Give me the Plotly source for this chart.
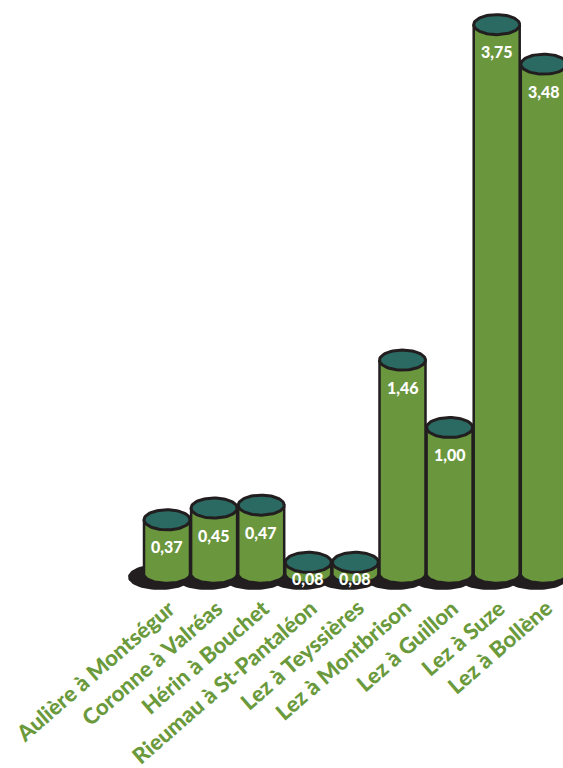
import numpy as np
import plotly.graph_objects as go

# ---------------- data ----------------
stations = ["Aulière à Montségur", "Coronne à Valréas", "Hérin à Bouchet",
            "Rieumau à St-Pantaléon", "Lez à Teyssières", "Lez à Montbrison",
            "Lez à Guillon", "Lez à Suze", "Lez à Bollène"]
values = [0.37, 0.45, 0.47, 0.08, 0.08, 1.46, 1.00, 3.75, 3.48]
value_labels = ["0,37", "0,45", "0,47", "0,08", "0,08", "1,46", "1,00", "3,75", "3,48"]

# ---------------- style / layout constants ----------------
W, H = 563, 768
X0_PX, X_STEP = 167.0, 47.1      # pixel of first category, px per category
Y0_PX, Y_SCALE = 574.0, 146.5    # pixel of zero, px per unit
xr = [-X0_PX / X_STEP, (W - X0_PX) / X_STEP]
yr = [-(H - Y0_PX) / Y_SCALE, Y0_PX / Y_SCALE]
PXX = 1.0 / X_STEP
PXY = 1.0 / Y_SCALE

GREEN = "#6a963e"
TEAL = "#2a6a62"
DARK = "#221e1f"
LABEL_GREEN = "#6a9a3c"

RX = 23.0 * PXX
RY_BOT = 9.0 * PXY
RY_TOP = 10.0 * PXY

t = np.linspace(0, 2 * np.pi, 73)
half = np.linspace(0, np.pi, 37)

fig = go.Figure()

# shadows
for i, v in enumerate(values):
    cx = i - 7 * PXX
    cy = -3 * PXY
    fig.add_trace(go.Scatter(
        x=cx + 32 * PXX * np.cos(t), y=cy + 13 * PXY * np.sin(t),
        mode="lines", fill="toself", fillcolor=DARK,
        line=dict(color=DARK, width=0), hoverinfo="skip"))

# cylinders
for i, v in enumerate(values):
    bx = np.concatenate([[i - RX, i + RX, i + RX],
                         i + RX * np.cos(half),
                         [i - RX, i - RX]])
    by = np.concatenate([[v, v, 0.0],
                         -RY_BOT * np.sin(half),
                         [0.0, v]])
    fig.add_trace(go.Scatter(
        x=bx, y=by, mode="lines", fill="toself", fillcolor=GREEN,
        line=dict(color=DARK, width=2.5), hoverinfo="skip"))
    fig.add_trace(go.Scatter(
        x=i + RX * np.cos(t), y=v + RY_TOP * np.sin(t),
        mode="lines", fill="toself", fillcolor=TEAL,
        line=dict(color=DARK, width=3), hoverinfo="skip"))

annotations = []
for i, (v, lab) in enumerate(zip(values, value_labels)):
    ylab = max(v - 27 * PXY, -4 * PXY)
    annotations.append(dict(
        x=i, y=ylab, xref="x", yref="y", text=lab, showarrow=False,
        xanchor="center", yanchor="middle",
        font=dict(family="Lato", size=16, color="white", weight=900)))

for i, name in enumerate(stations):
    annotations.append(dict(
        x=i + 16 * PXX, y=-17 * PXY, xref="x", yref="y", text=name,
        showarrow=False, textangle=-41, xanchor="right", yanchor="top",
        font=dict(family="Lato", size=22, color=LABEL_GREEN, weight=900)))

fig.update_layout(
    width=W, height=H,
    margin=dict(l=0, r=0, t=0, b=0),
    paper_bgcolor="white", plot_bgcolor="white",
    showlegend=False, hovermode=False,
    xaxis=dict(range=xr, visible=False, fixedrange=True),
    yaxis=dict(range=yr, visible=False, fixedrange=True),
    annotations=annotations,
)

fig.write_html("out.html", config={"displayModeBar": False},
               post_script="document.body.style.margin='0';document.body.style.overflow='hidden';")
